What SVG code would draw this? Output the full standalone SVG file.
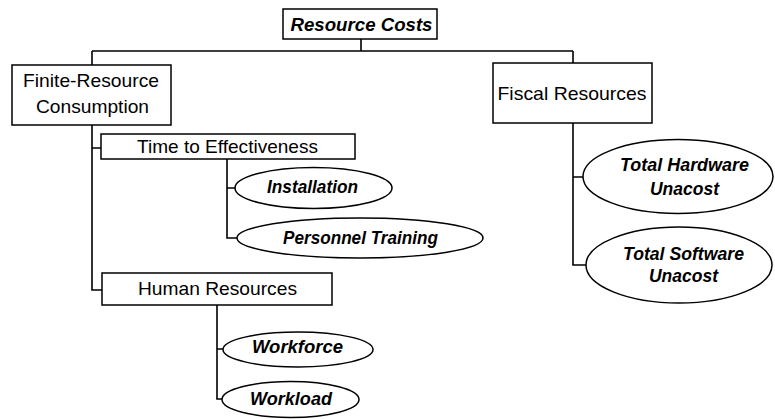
<svg xmlns="http://www.w3.org/2000/svg" width="775" height="419" viewBox="0 0 775 419">
<style>
.box{fill:#fff;stroke:#000;stroke-width:1.5}
.ell{fill:#fff;stroke:#000;stroke-width:1.5}
.con{fill:none;stroke:#000;stroke-width:1.6}
.t{font-family:"Liberation Sans",Arial,sans-serif;font-size:19px;fill:#000;text-anchor:middle}
.bi{font-family:"Liberation Sans",Arial,sans-serif;font-size:17.5px;font-weight:bold;font-style:italic;fill:#000;text-anchor:middle}
</style>
<rect width="775" height="419" fill="#fff"/>
<g id="connectors">
<path class="con" d="M361 39V51M92 51H573M92 51V65M573 51V63"/>
<path class="con" d="M92 125V290H102M92 148H101"/>
<path class="con" d="M227 159V238H237M227 188H235"/>
<path class="con" d="M217 305V399H222M217 349H223"/>
<path class="con" d="M573 123V265H586M573 177H583"/>
</g>
<g id="resource-costs">
<rect class="box" x="283" y="9" width="154" height="30"/>
<text class="bi" x="361.5" y="30.5" style="font-size:18.5px" textLength="142" lengthAdjust="spacingAndGlyphs">Resource Costs</text>
</g>
<g id="finite-resource">
<rect class="box" x="12" y="65" width="159" height="60"/>
<text class="t" x="91" y="87" textLength="136" lengthAdjust="spacingAndGlyphs">Finite-Resource</text>
<text class="t" x="92.5" y="113" textLength="113" lengthAdjust="spacingAndGlyphs">Consumption</text>
</g>
<g id="fiscal-resources">
<rect class="box" x="493" y="63" width="159" height="60"/>
<text class="t" x="572" y="100" textLength="149" lengthAdjust="spacingAndGlyphs">Fiscal Resources</text>
</g>
<g id="time-to-effectiveness">
<rect class="box" x="101" y="134" width="254" height="25"/>
<text class="t" x="227.5" y="153" textLength="181" lengthAdjust="spacingAndGlyphs">Time to Effectiveness</text>
</g>
<g id="installation">
<ellipse class="ell" cx="313.5" cy="188" rx="78.5" ry="20.5"/>
<text class="bi" x="312.5" y="193" textLength="91" lengthAdjust="spacingAndGlyphs">Installation</text>
</g>
<g id="personnel-training">
<ellipse class="ell" cx="360" cy="238" rx="123" ry="20"/>
<text class="bi" x="360.5" y="243.5" textLength="155" lengthAdjust="spacingAndGlyphs">Personnel Training</text>
</g>
<g id="human-resources">
<rect class="box" x="102" y="273" width="230" height="32"/>
<text class="t" x="217.5" y="295" textLength="159" lengthAdjust="spacingAndGlyphs">Human Resources</text>
</g>
<g id="workforce">
<ellipse class="ell" cx="298" cy="349.5" rx="75" ry="17.5"/>
<text class="bi" x="297.5" y="353" textLength="91" lengthAdjust="spacingAndGlyphs">Workforce</text>
</g>
<g id="workload">
<ellipse class="ell" cx="290.5" cy="399.5" rx="68.5" ry="18"/>
<text class="bi" x="291" y="405" textLength="82" lengthAdjust="spacingAndGlyphs">Workload</text>
</g>
<g id="total-hardware">
<ellipse class="ell" cx="678" cy="176.5" rx="95" ry="37"/>
<text class="bi" x="684.5" y="171" textLength="129" lengthAdjust="spacingAndGlyphs">Total Hardware</text>
<text class="bi" x="684.5" y="195">Unacost</text>
</g>
<g id="total-software">
<ellipse class="ell" cx="679" cy="265" rx="93" ry="38"/>
<text class="bi" x="683.5" y="259.5" textLength="121" lengthAdjust="spacingAndGlyphs">Total Software</text>
<text class="bi" x="683.5" y="282">Unacost</text>
</g>
</svg>
